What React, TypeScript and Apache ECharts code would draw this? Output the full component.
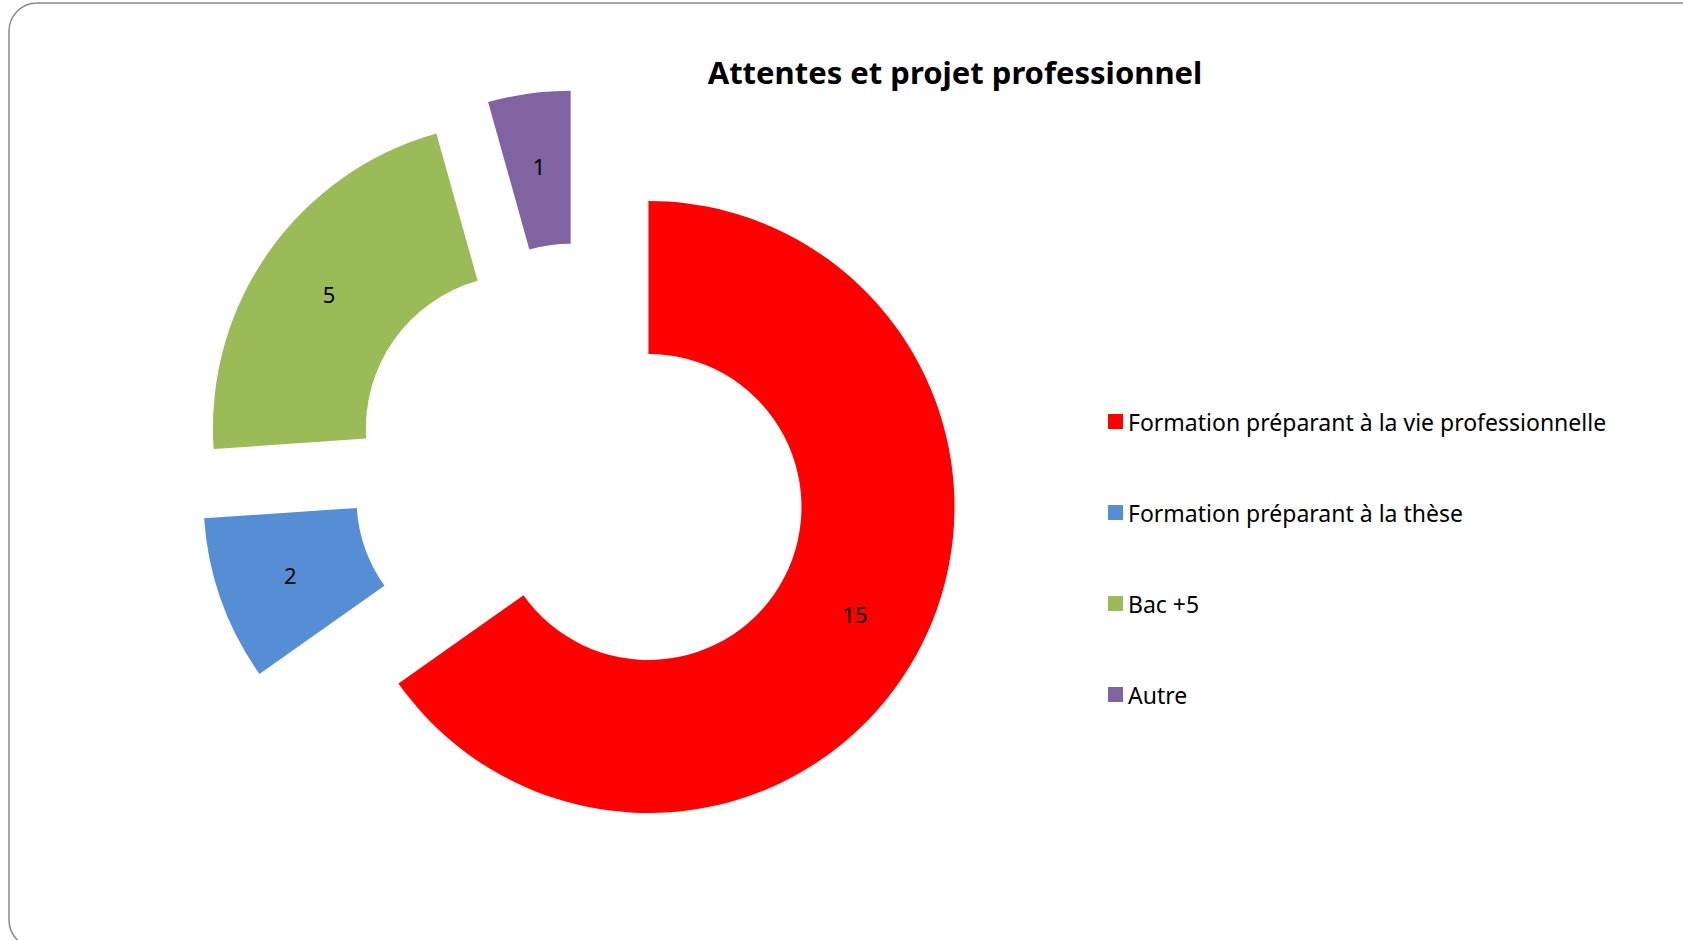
import React, { useEffect, useRef } from "react";
import * as echarts from "echarts";

const categories = [
  "Formation préparant à la vie professionnelle",
  "Formation préparant à la thèse",
  "Bac +5",
  "Autre",
];
const values = [15, 2, 5, 1];
const colors = ["#FF0000", "#558ED5", "#9BBB59", "#8064A2"];
const titleText = "Attentes et projet professionnel";

export default function App() {
  const ref = useRef<HTMLDivElement>(null);
  useEffect(() => {
    if (!ref.current) return;
    const chart = echarts.init(ref.current, null, { renderer: "svg" });
    chart.setOption({
      animation: false,
      backgroundColor: "#ffffff",
      title: {
        text: titleText,
        left: 950,
        top: 51,
        textAlign: "center",
        textStyle: {
          fontFamily: "Noto Sans",
          fontWeight: "bold",
          fontSize: 31,
          color: "#000000",
        },
      },
      legend: {
        orient: "vertical",
        left: 1103,
        top: 405,
        itemWidth: 15,
        itemHeight: 15,
        itemGap: 68,
        icon: "rect",
        selectedMode: false,
        textStyle: {
          fontFamily: "Noto Sans",
          fontSize: 23,
          lineHeight: 23,
          color: "#000000",
        },
        data: categories,
      },
      graphic: [
        {
          type: "rect",
          silent: true,
          shape: { x: 9, y: 3, width: 1700, height: 945, r: 28 },
          style: { fill: "none", stroke: "#8a8a8a", lineWidth: 1.5 },
        },
      ],
      series: [
        {
          type: "pie",
          center: [581, 472],
          radius: [153, 306],
          startAngle: 90,
          clockwise: true,
          selectedMode: "multiple",
          selectedOffset: 76,
          avoidLabelOverlap: false,
          emphasis: { disabled: true },
          label: {
            show: true,
            position: "inside",
            formatter: "{c}",
            fontFamily: "Noto Sans",
            fontSize: 22,
            color: "#000000",
            offset: [0, 3],
          },
          labelLine: { show: false },
          itemStyle: { borderWidth: 0 },
          data: categories.map((name, i) => ({
            name,
            value: values[i],
            selected: true,
            itemStyle: { color: colors[i] },
          })),
        },
      ],
    });
    return () => chart.dispose();
  }, []);
  return (
    <div
      ref={ref}
      style={{ position: "fixed", left: 0, top: 0, width: 1683, height: 940 }}
    />
  );
}
